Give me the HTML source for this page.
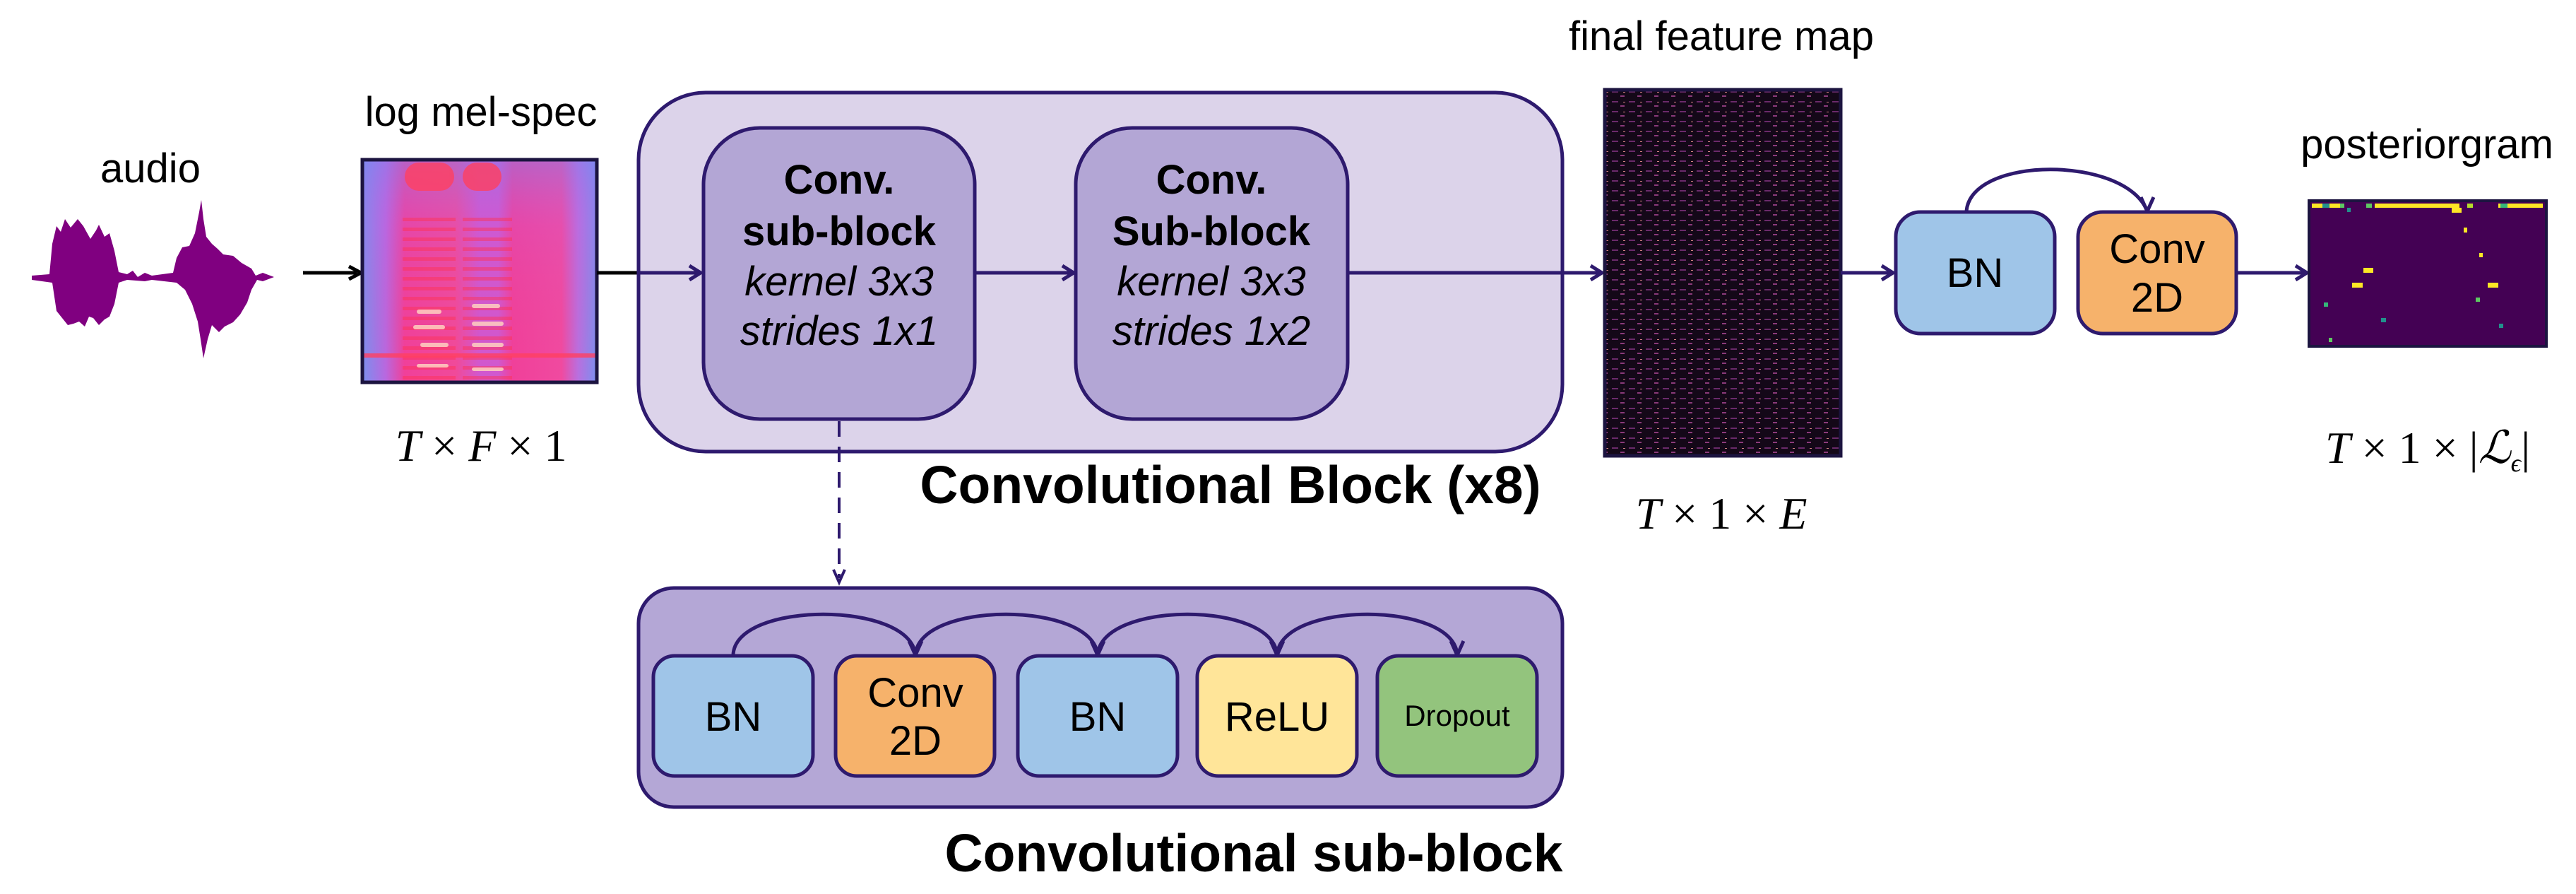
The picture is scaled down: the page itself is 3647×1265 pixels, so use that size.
<!DOCTYPE html>
<html><head><meta charset="utf-8"><style>
html,body{margin:0;padding:0;background:#fff;}
svg{display:block;}
text{font-family:"Liberation Sans",Arial,sans-serif;}
.m{font-family:"Liberation Serif",serif;}
</style></head><body>
<svg width="3647" height="1265" viewBox="0 0 3647 1265" xmlns="http://www.w3.org/2000/svg">
<defs>
<linearGradient id="spg" x1="0" y1="0" x2="1" y2="0">
<stop offset="0" stop-color="#7a90f0"/><stop offset="0.1" stop-color="#b868e0"/>
<stop offset="0.18" stop-color="#f0409a"/><stop offset="0.4" stop-color="#f04a9a"/>
<stop offset="0.5" stop-color="#d058d0"/><stop offset="0.58" stop-color="#d058d0"/>
<stop offset="0.64" stop-color="#f0409a"/><stop offset="0.85" stop-color="#f04aa0"/>
<stop offset="0.92" stop-color="#b870e0"/><stop offset="1" stop-color="#7a90f0"/>
</linearGradient>
<linearGradient id="spv" x1="0" y1="0" x2="0" y2="1">
<stop offset="0" stop-color="#8080f0" stop-opacity="0.5"/><stop offset="0.3" stop-color="#c060e0" stop-opacity="0.2"/>
<stop offset="1" stop-color="#f04080" stop-opacity="0"/>
</linearGradient>
<pattern id="fm" width="24" height="14" patternUnits="userSpaceOnUse">
<rect width="24" height="14" fill="#140818"/>
<rect x="2" y="3" width="9" height="2" fill="#6a2a6a"/>
<rect x="14" y="9" width="6" height="2" fill="#8a3a7a"/>
<rect x="18" y="4" width="3" height="1" fill="#d08080"/>
</pattern>
<pattern id="sp" width="20" height="14" patternUnits="userSpaceOnUse">
<rect y="0" width="20" height="5" fill="#ff3050" opacity="0.45"/>
</pattern>
</defs>

<!-- audio -->
<text x="213" y="258" font-size="58" text-anchor="middle">audio</text>
<path fill="#800080" d="M45,390 L70,388 L74,345 L80,320 L86,328 L92,310 L100,322 L110,310 L118,320 L128,338 L136,326 L140,318 L148,335 L155,330 L162,355 L168,385 L180,388 L188,383 L195,392 L205,386 L215,390 L245,386 L250,365 L258,350 L268,348 L276,330 L282,300 L285,283 L288,310 L292,335 L300,345 L308,352 L316,360 L330,362 L342,372 L356,380 L362,390 L372,386 L388,392 L372,398 L364,396 L356,410 L350,428 L340,445 L330,456 L318,462 L310,470 L300,460 L294,480 L288,507 L284,480 L280,455 L272,430 L262,410 L250,400 L215,396 L205,398 L180,396 L168,400 L162,430 L155,448 L148,452 L140,460 L132,450 L126,448 L120,462 L112,455 L104,458 L96,460 L88,450 L80,440 L74,400 L45,396 Z"/>
<line x1="429" y1="386" x2="505" y2="386" stroke="#000" stroke-width="5"/>
<path d="M494,377 L511,386 L494,395" fill="none" stroke="#000" stroke-width="5"/>

<!-- spectrogram -->
<text x="681" y="178" font-size="58" text-anchor="middle">log mel-spec</text>
<rect x="513" y="226" width="332" height="315" fill="url(#spg)"/>
<rect x="513" y="226" width="332" height="315" fill="url(#spv)"/>
<rect x="570" y="300" width="75" height="240" fill="url(#sp)"/>
<rect x="655" y="300" width="70" height="240" fill="url(#sp)"/>
<g fill="#ff4060" opacity="0.8">
<rect x="573" y="230" width="70" height="40" rx="20"/>
<rect x="655" y="230" width="55" height="40" rx="20"/>
<rect x="515" y="500" width="330" height="6"/>
</g>
<g fill="#ffd0c0" opacity="0.85">
<rect x="590" y="438" width="35" height="6" rx="3"/>
<rect x="585" y="460" width="45" height="6" rx="3"/>
<rect x="595" y="485" width="40" height="6" rx="3"/>
<rect x="590" y="515" width="45" height="5" rx="3"/>
<rect x="668" y="430" width="40" height="6" rx="3"/>
<rect x="668" y="455" width="45" height="6" rx="3"/>
<rect x="668" y="485" width="45" height="6" rx="3"/>
<rect x="668" y="520" width="45" height="5" rx="3"/>
</g>
<rect x="513" y="226" width="332" height="315" fill="none" stroke="#1c1440" stroke-width="5"/>
<text x="681" y="652" font-size="64" text-anchor="middle" class="m"><tspan font-style="italic">T</tspan> × <tspan font-style="italic">F</tspan> × 1</text>
<line x1="845" y1="386" x2="905" y2="386" stroke="#000" stroke-width="5"/>

<!-- big conv block -->
<rect x="904" y="131" width="1308" height="508" rx="95" fill="#dcd3ea" stroke="#2e1a6e" stroke-width="5"/>
<line x1="905" y1="386" x2="990" y2="386" stroke="#2e1a6e" stroke-width="5"/>
<path d="M976,376 L992,386 L976,396" fill="none" stroke="#2e1a6e" stroke-width="5"/>
<rect x="996" y="181" width="384" height="412" rx="80" fill="#b3a6d5" stroke="#2e1a6e" stroke-width="5"/>
<rect x="1523" y="181" width="385" height="412" rx="80" fill="#b3a6d5" stroke="#2e1a6e" stroke-width="5"/>
<line x1="1380" y1="386" x2="1518" y2="386" stroke="#2e1a6e" stroke-width="5"/>
<path d="M1504,376 L1520,386 L1504,396" fill="none" stroke="#2e1a6e" stroke-width="5"/>
<line x1="1908" y1="386" x2="2265" y2="386" stroke="#2e1a6e" stroke-width="5"/>
<path d="M2252,376 L2268,386 L2252,396" fill="none" stroke="#2e1a6e" stroke-width="5"/>
<g font-size="58" text-anchor="middle" xml:space="preserve">
<text x="1188" y="274" font-weight="bold">Conv.</text>
<text x="1188" y="347" font-weight="bold">sub-block</text>
<text x="1188" y="418" font-style="italic">kernel  3x3</text>
<text x="1188" y="488" font-style="italic">strides 1x1</text>
<text x="1715" y="274" font-weight="bold">Conv.</text>
<text x="1715" y="347" font-weight="bold">Sub-block</text>
<text x="1715" y="418" font-style="italic">kernel  3x3</text>
<text x="1715" y="488" font-style="italic">strides 1x2</text>
</g>
<text x="1742" y="712" font-size="75" font-weight="bold" text-anchor="middle">Convolutional Block (x8)</text>

<!-- dashed -->
<line x1="1188" y1="596" x2="1188" y2="818" stroke="#2e1a6e" stroke-width="4" stroke-dasharray="22,14"/>
<path d="M1180,806 L1188,824 L1196,806" fill="none" stroke="#2e1a6e" stroke-width="4"/>

<!-- sub-block container -->
<rect x="904" y="832" width="1308" height="310" rx="50" fill="#b4a7d6" stroke="#2e1a6e" stroke-width="5"/>
<g stroke="#2e1a6e" stroke-width="5" fill="none">
<path d="M1038,927 C1040,850 1290,850 1296,927"/>
<path d="M1296,927 C1300,850 1548,850 1554,927"/>
<path d="M1554,927 C1558,850 1804,850 1808,927"/>
<path d="M1808,927 C1812,850 2060,850 2063,927"/>
<path d="M1287,907 L1296,927 L1305,907"/>
<path d="M1545,907 L1554,927 L1563,907"/>
<path d="M1799,907 L1808,927 L1817,907"/>
<path d="M2054,907 L2063,927 L2072,907"/>
</g>
<g stroke="#2e1a6e" stroke-width="5">
<rect x="925" y="928" width="226" height="170" rx="30" fill="#9fc5e8"/>
<rect x="1183" y="928" width="225" height="170" rx="30" fill="#f6b26b"/>
<rect x="1441" y="928" width="226" height="170" rx="30" fill="#9fc5e8"/>
<rect x="1695" y="928" width="226" height="170" rx="30" fill="#ffe599"/>
<rect x="1950" y="928" width="226" height="170" rx="30" fill="#93c47d"/>
</g>
<g font-size="58" text-anchor="middle">
<text x="1038" y="1034">BN</text>
<text x="1296" y="1000">Conv</text>
<text x="1296" y="1068">2D</text>
<text x="1554" y="1034">BN</text>
<text x="1808" y="1034">ReLU</text>
<text x="2063" y="1027" font-size="42">Dropout</text>
</g>
<text x="1775" y="1233" font-size="75" font-weight="bold" text-anchor="middle">Convolutional sub-block</text>

<!-- feature map -->
<text x="2437" y="71" font-size="58" text-anchor="middle">final feature map</text>
<rect x="2272" y="127" width="334" height="518" fill="url(#fm)" stroke="#1c1440" stroke-width="5"/>
<text x="2437" y="748" font-size="64" text-anchor="middle" class="m"><tspan font-style="italic">T</tspan> × 1 × <tspan font-style="italic">E</tspan></text>
<line x1="2606" y1="386" x2="2676" y2="386" stroke="#2e1a6e" stroke-width="5"/>
<path d="M2664,376 L2680,386 L2664,396" fill="none" stroke="#2e1a6e" stroke-width="5"/>

<!-- BN / Conv2D -->
<path d="M2784,299 C2790,220 3010,220 3040,299" fill="none" stroke="#2e1a6e" stroke-width="5"/>
<path d="M3031,279 L3040,299 L3049,279" fill="none" stroke="#2e1a6e" stroke-width="5"/>
<rect x="2684" y="300" width="225" height="172" rx="35" fill="#9fc5e8" stroke="#2e1a6e" stroke-width="5"/>
<rect x="2942" y="300" width="224" height="172" rx="35" fill="#f6b26b" stroke="#2e1a6e" stroke-width="5"/>
<text x="2796" y="406" font-size="58" text-anchor="middle">BN</text>
<text x="3054" y="372" font-size="58" text-anchor="middle">Conv</text>
<text x="3054" y="441" font-size="58" text-anchor="middle">2D</text>
<line x1="3166" y1="386" x2="3262" y2="386" stroke="#2e1a6e" stroke-width="5"/>
<path d="M3250,376 L3266,386 L3250,396" fill="none" stroke="#2e1a6e" stroke-width="5"/>

<!-- posteriorgram -->
<text x="3436" y="224" font-size="58" text-anchor="middle">posteriorgram</text>
<rect x="3269" y="284" width="336" height="206" fill="#440154" stroke="#1c1440" stroke-width="4"/>
<g>
<rect x="3273" y="288" width="15" height="6" fill="#fde725"/>
<rect x="3288" y="288" width="10" height="6" fill="#21918c"/>
<rect x="3298" y="288" width="15" height="6" fill="#fde725"/>
<rect x="3313" y="288" width="6" height="6" fill="#5ec962"/>
<rect x="3362" y="288" width="120" height="6" fill="#fde725"/>
<rect x="3350" y="288" width="8" height="6" fill="#5ec962"/>
<rect x="3493" y="288" width="8" height="6" fill="#b5de2b"/>
<rect x="3537" y="288" width="63" height="6" fill="#fde725"/>
<rect x="3540" y="288" width="10" height="6" fill="#35b779"/>
<rect x="3471" y="294" width="14" height="7" fill="#fde725"/>
<rect x="3323" y="294" width="5" height="6" fill="#21918c"/>
<rect x="3488" y="322" width="5" height="7" fill="#fde725"/>
<rect x="3510" y="358" width="5" height="6" fill="#fde725"/>
<rect x="3346" y="379" width="14" height="7" fill="#fde725"/>
<rect x="3330" y="400" width="15" height="7" fill="#fde725"/>
<rect x="3522" y="400" width="15" height="7" fill="#fde725"/>
<rect x="3505" y="421" width="6" height="6" fill="#5ec962"/>
<rect x="3290" y="428" width="6" height="6" fill="#35b779"/>
<rect x="3371" y="450" width="7" height="6" fill="#21918c"/>
<rect x="3538" y="458" width="6" height="6" fill="#21918c"/>
<rect x="3297" y="478" width="5" height="6" fill="#5ec962"/>
</g>
<text x="3437" y="655" font-size="64" text-anchor="middle" class="m"><tspan font-style="italic">T</tspan> × 1 × |<tspan font-style="italic">ℒ</tspan><tspan font-size="36" dy="12" font-style="italic">ϵ</tspan><tspan dy="-12">|</tspan></text>
</svg>
</body></html>
